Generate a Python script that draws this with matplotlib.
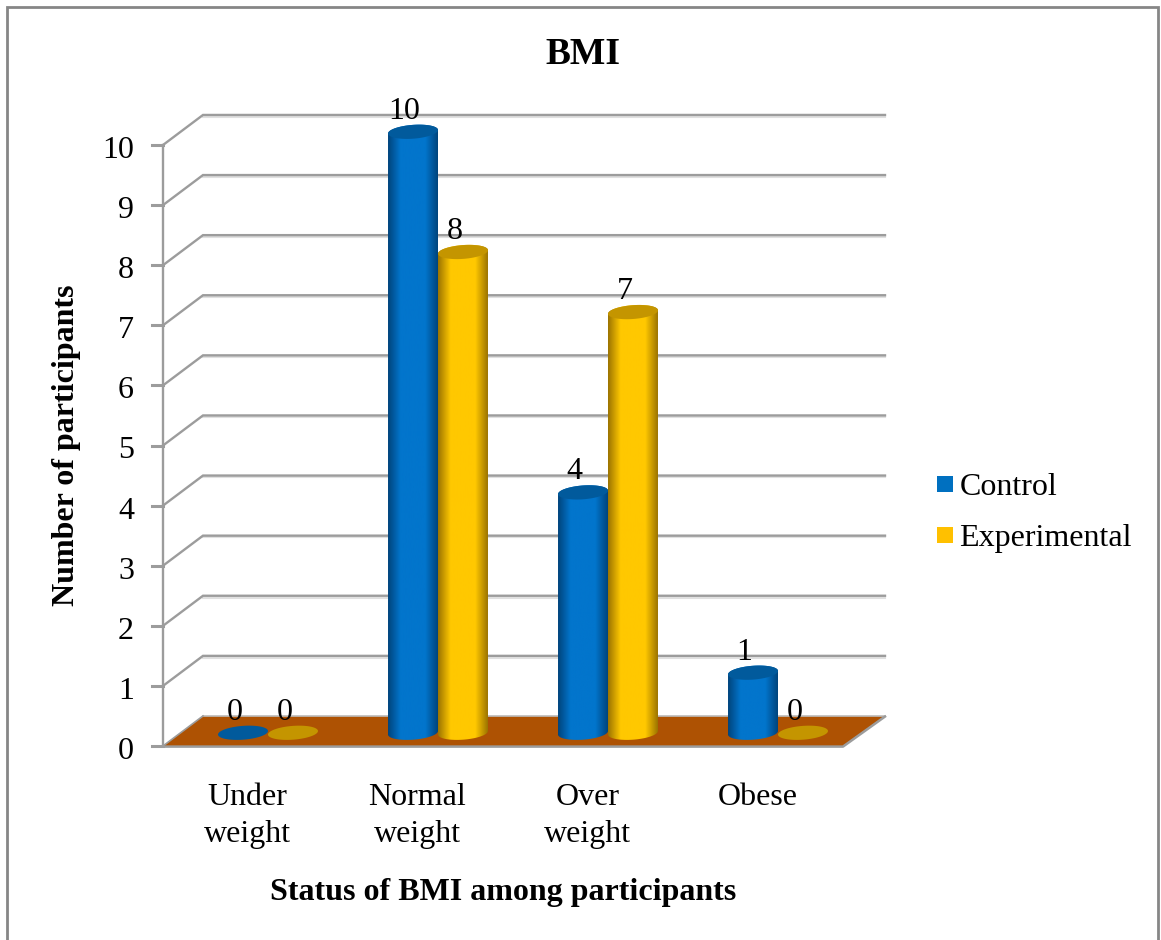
"""Grouped cylinder chart of BMI status for the control and experimental groups."""

import numpy as np
import matplotlib

matplotlib.use("Agg")
import matplotlib.pyplot as plt
from matplotlib.colors import LinearSegmentedColormap
from matplotlib.patches import PathPatch, Polygon, Rectangle
from matplotlib.path import Path

categories = ["Under\nweight", "Normal\nweight", "Over\nweight", "Obese"]
control = [0, 10, 4, 1]
experimental = [0, 8, 7, 0]
y_ticks = list(range(11))

W, H = 1161, 940
X0_PX, X4_PX = 163, 843
Y0_PX, Y10_PX = 746, 145
DEPTH_X = 0.2353
DEPTH_Y = 0.5
BAR_W = 0.294
ELL_B = 0.115
TILT = 0.2
BASE = 0.22
GRID = "#9c9c9c"
GRID_SHADOW = "#e0e0e0"
FONT = 23

plt.rcParams["font.family"] = ["Liberation Serif", "DejaVu Serif"]

fig = plt.figure(figsize=(W / 100, H / 100), dpi=100)
ax = fig.add_axes([0, 0, 1, 1])
ax.axis("off")

px_x = (X4_PX - X0_PX) / 4
px_y = (Y0_PX - Y10_PX) / 10
xlim = (-X0_PX / px_x, (W - X0_PX) / px_x)
ylim = (-(H - Y0_PX) / px_y, Y0_PX / px_y)


def ellipse_points(cx, cy, t):
    dx = BAR_W / 2 * np.cos(t)
    return cx + dx, cy + ELL_B * np.sin(t) + TILT * dx


def make_cmap(edge, mid):
    stops = [(0, edge), (0.25, mid), (0.5, mid), (0.75, mid), (1, edge)]
    return LinearSegmentedColormap.from_list("shade", stops)


def draw_cylinder(cx, value, side, top, face):
    t = np.linspace(0, 2 * np.pi, 80)
    if value == 0:
        xs, ys = ellipse_points(cx, BASE, t)
        ax.add_patch(Polygon(np.c_[xs, ys], closed=True, fc=top, ec="none", zorder=5))
        return
    tx, ty = ellipse_points(cx, BASE + value, np.linspace(0, np.pi, 50))
    bx, by = ellipse_points(cx, BASE, np.linspace(np.pi, 2 * np.pi, 50))
    outline = np.r_[np.c_[tx, ty], np.c_[bx, by]]
    clip = PathPatch(Path(np.r_[outline, outline[:1]]), transform=ax.transData,
                     fc="none", ec="none")
    ax.add_patch(clip)
    gradient = np.linspace(0, 1, 128).reshape(1, -1)
    image = ax.imshow(gradient, cmap=make_cmap(side, face), aspect="auto", zorder=5,
                      extent=(cx - BAR_W / 2, cx + BAR_W / 2, BASE - 0.3, BASE + value + 0.3))
    image.set_clip_path(clip)
    xs, ys = ellipse_points(cx, BASE + value, t)
    ax.add_patch(Polygon(np.c_[xs, ys], closed=True, fc=top, ec="none", zorder=6))


# Back wall gridlines with the diagonal run to the front axis
for v in y_ticks[1:]:
    ax.plot([DEPTH_X, 4 + DEPTH_X * 1.05], [v + DEPTH_Y - 0.03, v + DEPTH_Y - 0.03],
            color=GRID_SHADOW, lw=1.5, zorder=1)
    ax.plot([0, DEPTH_X, 4 + DEPTH_X * 1.05], [v, v + DEPTH_Y, v + DEPTH_Y],
            color=GRID, lw=1.7, solid_joinstyle="miter", zorder=1)
ax.plot([0, 0], [0, 10], color=GRID, lw=1.7, zorder=1)
for v in y_ticks:
    ax.plot([-0.065, 0], [v, v], color=GRID, lw=2.2, zorder=1)
    ax.text(-0.17, v - 0.09, str(v), ha="right", va="center", fontsize=FONT)

# Floor
floor = [(0, 0), (4, 0), (4 + DEPTH_X * 1.05, DEPTH_Y), (DEPTH_X, DEPTH_Y)]
ax.add_patch(Polygon(floor, closed=True, fc="#ae5203", ec="none", zorder=2))
ax.plot([DEPTH_X, 4 + DEPTH_X * 1.05], [DEPTH_Y, DEPTH_Y], color="#bdbdbd", lw=1.2, zorder=2)
ax.plot([0, 4, 4 + DEPTH_X * 1.05], [-0.01, -0.01, DEPTH_Y - 0.01], color=GRID, lw=1.8, zorder=2)
ax.plot([0, DEPTH_X], [0, DEPTH_Y], color=GRID, lw=1.2, zorder=2)

# Cylinders and their value labels
for i, (c, e) in enumerate(zip(control, experimental)):
    left = i + 0.5 + DEPTH_X / 2 - BAR_W / 2
    right = i + 0.5 + DEPTH_X / 2 + BAR_W / 2
    draw_cylinder(left, c, "#00447c", "#015a9c", "#0275cc")
    draw_cylinder(right, e, "#9c7400", "#c49500", "#ffc800")
    ax.text(left - 0.05, c + 0.56, str(c), ha="center", va="center", fontsize=FONT, zorder=7)
    ax.text(right - 0.05, e + 0.56, str(e), ha="center", va="center", fontsize=FONT, zorder=7)

# Category labels under the floor, top aligned so one-line names sit on the first row
for i, name in enumerate(categories):
    ax.text(i + 0.497, -0.62, name, ha="center", va="top", fontsize=FONT, linespacing=1.33)

ax.text(2.47, 11.5, "BMI", ha="center", va="center", fontsize=27, fontweight="bold")
ax.text(-0.567, 5.0, "Number of participants", rotation=90, ha="center", va="center",
        fontsize=FONT, fontweight="bold")
ax.text(2.0, -2.44, "Status of BMI among participants", ha="center", va="center",
        fontsize=FONT, fontweight="bold")

# Legend
legend_names = ["Control", "Experimental"]
legend_colors = ["#0070c0", "#ffc000"]
for name, color, row in zip(legend_names, legend_colors, [4.35, 3.5]):
    ax.add_patch(Rectangle((4.55, row - 0.13), 0.095, 0.27, fc=color, ec="none", zorder=3))
    ax.text(4.685, row - 0.05, name, ha="left", va="center", fontsize=FONT)

ax.set_xlim(xlim)
ax.set_ylim(ylim)

# Chart frame
fig.add_artist(Rectangle((7 / W, -0.01), (1158 - 7) / W, 1.01 - 7 / H, transform=fig.transFigure,
                         fill=False, ec="#868686", lw=2))

fig.savefig("out.png", dpi=100)
plt.close(fig)
